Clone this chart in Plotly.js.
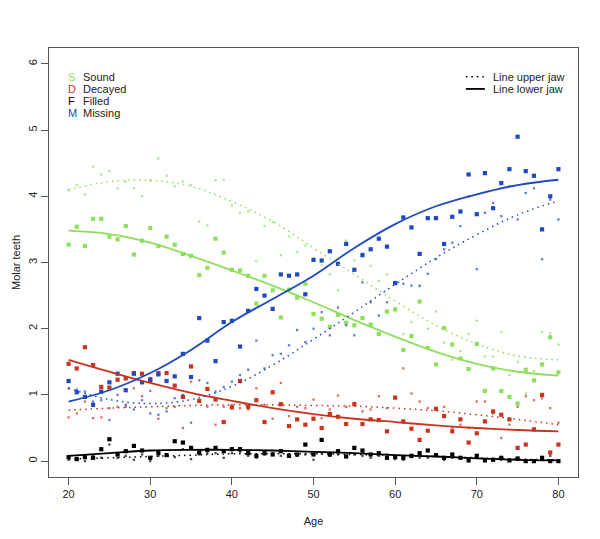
<!DOCTYPE html>
<html><head><meta charset="utf-8">
<script src="https://cdn.plot.ly/plotly-3.0.1.min.js"></script>
<style>html,body{margin:0;padding:0;background:#fff}#c{width:600px;height:539px}</style>
</head><body><div id="c"></div>
<script>
const ages = [];
for (let a = 20; a <= 80; a++) ages.push(a);

const soundLower = [3.27,3.54,3.25,3.66,3.66,3.39,3.35,3.55,3.12,3.33,3.52,3.25,3.39,3.27,3.13,3.10,2.81,2.92,3.36,3.15,2.89,2.88,2.80,2.38,2.80,2.58,2.17,2.59,2.47,2.68,2.22,2.15,2.03,2.21,2.09,2.05,2.16,2.06,1.92,2.26,2.29,1.68,1.89,2.41,1.71,1.46,2.01,1.76,1.55,1.39,1.77,1.06,1.40,1.06,0.97,0.87,1.38,1.22,1.46,1.87,1.34];
const soundUpper = [4.09,4.17,4.03,4.45,4.33,4.38,4.12,4.22,4.12,4.00,4.24,4.57,4.31,4.15,4.22,4.17,3.62,3.56,4.24,4.25,3.86,3.75,3.77,3.02,3.55,3.61,3.11,3.39,3.16,3.26,3.06,2.96,2.82,2.58,3.33,3.03,3.14,2.95,2.72,2.82,2.31,1.92,2.10,2.64,2.00,2.26,1.79,1.53,1.66,1.92,2.12,1.58,1.58,1.95,1.30,1.50,1.02,1.36,1.95,1.93,1.76];
const decLower = [1.47,1.40,1.72,1.45,1.12,1.11,1.23,1.25,1.33,1.32,1.24,1.33,1.33,1.14,0.97,1.43,0.91,1.09,0.93,0.59,0.81,1.21,0.82,0.92,0.59,1.04,0.86,0.53,0.63,0.55,0.64,0.50,0.71,0.67,0.56,0.86,0.56,0.63,0.62,0.45,0.96,0.60,0.49,0.32,0.46,0.79,0.68,0.45,0.63,0.28,0.42,0.60,0.75,0.70,0.63,0.20,0.25,0.48,1.00,0.13,0.25];
const decUpper = [0.66,0.72,0.90,0.65,0.66,0.80,0.82,0.82,1.10,0.98,1.06,0.64,0.80,0.82,0.50,1.20,1.00,0.82,0.55,0.82,0.85,0.80,0.78,1.10,0.85,0.64,1.18,0.68,0.82,0.80,0.93,0.65,0.78,0.99,0.82,0.88,0.75,0.78,0.98,0.80,0.95,1.40,1.02,0.90,0.80,0.78,0.82,0.50,0.55,0.50,0.90,0.90,0.72,0.35,0.55,0.82,0.98,0.92,0.95,0.80,0.58];
const filLower = [0.06,0.03,0.06,0.05,0.18,0.33,0.10,0.15,0.23,0.16,0.05,0.12,0.09,0.30,0.28,0.20,0.13,0.17,0.20,0.15,0.18,0.18,0.12,0.08,0.12,0.10,0.15,0.08,0.10,0.25,0.10,0.32,0.10,0.15,0.07,0.20,0.16,0.10,0.12,0.05,0.06,0.05,0.08,0.12,0.16,0.09,0.05,0.10,0.05,0.01,0.08,0.01,0.02,0.05,0.01,0.04,0.00,0.00,0.05,0.00,0.00];
const filUpper = [0.02,0.05,0.00,0.08,0.05,0.25,0.05,0.08,0.02,0.10,0.00,0.08,0.10,0.06,0.18,0.03,0.10,0.12,0.12,0.05,0.12,0.14,0.08,0.05,0.10,0.12,0.08,0.10,0.08,0.10,0.02,0.12,0.08,0.10,0.08,0.10,0.08,0.05,0.08,0.10,0.03,0.02,0.06,0.05,0.05,0.08,0.02,0.05,0.05,0.02,0.05,0.01,0.03,0.02,0.01,0.02,0.01,0.00,0.02,0.08,0.01];
const misLower = [1.21,1.04,0.97,0.85,1.05,1.19,1.32,1.07,1.32,1.19,1.22,1.31,1.21,1.28,1.62,1.27,2.16,1.82,1.51,2.10,2.12,1.73,2.27,2.60,2.50,2.30,2.82,2.80,2.82,2.52,3.04,3.03,3.17,2.98,3.28,2.89,3.11,3.20,3.36,3.24,2.69,3.68,3.53,3.13,3.67,3.67,3.28,3.69,3.77,4.33,3.73,4.35,3.82,4.20,4.41,4.90,4.38,4.31,3.50,4.00,4.41];
const misUpper = [1.10,1.08,1.05,0.90,0.92,0.62,1.00,0.85,0.78,0.92,0.72,0.70,0.75,0.95,1.00,0.58,1.22,1.18,1.05,1.12,1.20,1.30,1.38,1.82,1.40,1.60,1.62,1.75,1.98,1.80,2.00,2.25,1.90,2.32,2.05,1.90,2.70,2.40,2.20,2.40,2.70,2.68,2.65,2.65,2.83,3.05,3.20,3.30,3.55,4.00,2.90,3.75,3.90,3.70,4.15,3.65,4.05,4.12,3.05,3.95,3.65];

// fitted curves, read at 5-year steps
const curveAges = [20,25,30,35,40,45,50,55,60,65,70,75,80];
const soundLowerFit = [3.48,3.43,3.30,3.10,2.88,2.65,2.40,2.13,1.88,1.65,1.47,1.35,1.29];
const soundUpperFit = [4.10,4.22,4.24,4.15,3.92,3.62,3.22,2.82,2.42,2.05,1.77,1.59,1.53];
const misLowerFit = [0.90,1.07,1.33,1.68,2.10,2.45,2.80,3.22,3.58,3.85,4.03,4.17,4.25];
const misUpperFit = [1.10,0.93,0.87,0.93,1.13,1.45,1.84,2.25,2.67,3.07,3.42,3.72,3.93];
const decLowerFit = [1.53,1.35,1.18,1.03,0.91,0.80,0.71,0.64,0.59,0.54,0.50,0.47,0.45];
const decUpperFit = [0.77,0.80,0.82,0.84,0.85,0.85,0.84,0.83,0.80,0.76,0.70,0.63,0.55];
const filLowerFit = [0.08,0.12,0.16,0.17,0.17,0.16,0.14,0.12,0.09,0.07,0.04,0.02,0.01];
const filUpperFit = [0.03,0.05,0.07,0.09,0.11,0.11,0.11,0.10,0.09,0.07,0.05,0.03,0.02];

const legendLetters = ['S','D','F','M'];
const legendNames = ['Sound','Decayed','Filled','Missing'];
const C = {S:'#8ddf5c', D:'#c9341f', F:'#000000', M:'#1f49bd'};
const colors = [C.S, C.D, C.F, C.M];

const groups = [
  {lo:soundLower, up:soundUpper, lf:soundLowerFit, uf:soundUpperFit, c:C.S},
  {lo:decLower, up:decUpper, lf:decLowerFit, uf:decUpperFit, c:C.D},
  {lo:filLower, up:filUpper, lf:filLowerFit, uf:filUpperFit, c:C.F},
  {lo:misLower, up:misUpper, lf:misLowerFit, uf:misUpperFit, c:C.M}
];

const traces = [];
groups.forEach(g => {
  traces.push({x:ages, y:g.up, type:'scatter', mode:'markers', marker:{symbol:'square', size:2.3, color:g.c, opacity:0.7}, showlegend:false, hoverinfo:'skip'});
  traces.push({x:ages, y:g.lo, type:'scatter', mode:'markers', marker:{symbol:'square', size:4.2, color:g.c}, showlegend:false, hoverinfo:'skip'});
});
groups.forEach(g => {
  traces.push({x:curveAges, y:g.uf, type:'scatter', mode:'lines', line:{color:g.c, width:1.5, dash:'1.5px,4px', shape:'spline', smoothing:1.1}, showlegend:false, hoverinfo:'skip'});
  traces.push({x:curveAges, y:g.lf, type:'scatter', mode:'lines', line:{color:g.c, width:1.8, shape:'spline', smoothing:1.1}, showlegend:false, hoverinfo:'skip'});
});

const font = {family:'Liberation Sans, Arial, sans-serif', size:11, color:'#222'};
const annotations = [];
const ly0 = 0.933, dly = 0.0284;
legendLetters.forEach((L, i) => {
  annotations.push({xref:'paper', yref:'paper', x:0.033, y:ly0 - i*dly, xanchor:'left', yanchor:'middle', text:L, showarrow:false, font:{family:font.family, size:11, color:colors[i]}});
  annotations.push({xref:'paper', yref:'paper', x:0.061, y:ly0 - i*dly, xanchor:'left', yanchor:'middle', text:legendNames[i], showarrow:false, font:font});
});
annotations.push({xref:'paper', yref:'paper', x:0.836, y:ly0, xanchor:'left', yanchor:'middle', text:'Line upper jaw', showarrow:false, font:font});
annotations.push({xref:'paper', yref:'paper', x:0.836, y:ly0 - dly, xanchor:'left', yanchor:'middle', text:'Line lower jaw', showarrow:false, font:font});

const shapes = [
  {type:'line', xref:'paper', yref:'paper', x0:0.788, x1:0.822, y0:ly0, y1:ly0, line:{color:'#000', width:1.3, dash:'1.5px,4px'}},
  {type:'line', xref:'paper', yref:'paper', x0:0.788, x1:0.824, y0:ly0 - dly, y1:ly0 - dly, line:{color:'#000', width:1.8}}
];

const layout = {
  width:600, height:539,
  margin:{l:49, r:22, t:48, b:62},
  paper_bgcolor:'#fff', plot_bgcolor:'#fff',
  font:font,
  showlegend:false,
  xaxis:{range:[17.6,82.4], tickvals:[20,30,40,50,60,70,80], ticks:'outside', ticklen:7, tickcolor:'#555', showline:true, mirror:true, linecolor:'#555', linewidth:1, showgrid:false, zeroline:false,
    title:{text:'Age', font:font, standoff:18}, tickfont:font},
  yaxis:{range:[-0.24,6.24], tickvals:[0,1,2,3,4,5,6], ticks:'outside', ticklen:7, tickcolor:'#555', showline:true, mirror:true, linecolor:'#555', linewidth:1, showgrid:false, zeroline:false,
    tickangle:-90, title:{text:'Molar teeth', font:font, standoff:3}, tickfont:font},
  annotations:annotations,
  shapes:shapes
};
Plotly.newPlot('c', traces, layout, {staticPlot:true, displayModeBar:false});
</script></body></html>
